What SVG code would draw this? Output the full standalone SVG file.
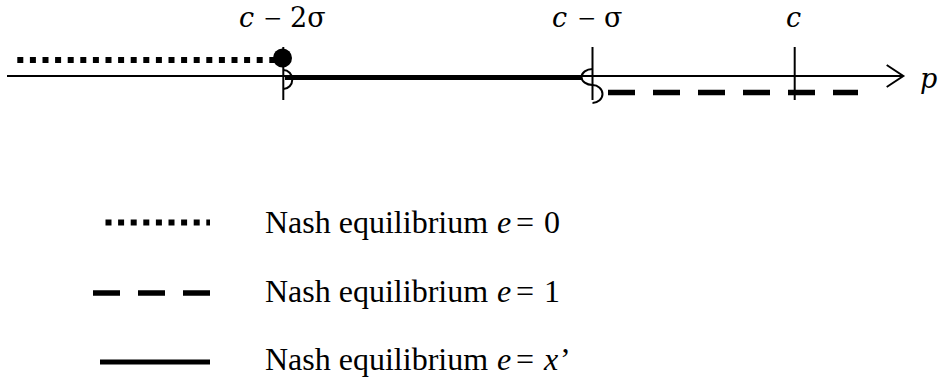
<svg xmlns="http://www.w3.org/2000/svg" width="938" height="387" viewBox="0 0 938 387">
<style>
.thin{stroke:#000;stroke-width:2;fill:none}
.dot{stroke:#000;stroke-width:6;stroke-dasharray:6 6.6;fill:none}
.dash{stroke:#000;stroke-width:5.5;stroke-dasharray:27 18;fill:none}
.solid{stroke:#000;stroke-width:5;fill:none}
.math{font-family:"DejaVu Serif","Liberation Serif",serif;font-size:27px;fill:#000}
.minus{font-family:"Liberation Serif",serif;font-size:31px}
.leg{font-family:"Liberation Serif","Times New Roman",serif;font-size:32px;fill:#000}
.it{font-style:italic}
</style>
<rect width="938" height="387" fill="#fff"/>
<g id="axis">
  <line class="thin" x1="7" y1="76" x2="903" y2="76"/>
  <polyline class="thin" points="886.7,65 903.3,76 886.7,87"/>
  <text class="math it" x="920" y="88">p</text>
</g>
<g id="tick-c2s">
  <line class="thin" x1="283.3" y1="47" x2="283.3" y2="100"/>
  <path class="thin" d="M283.3,70 A9,9.5 0 0 1 283.3,89"/>
  <circle cx="282.5" cy="58" r="9.5" fill="#000"/>
  <text class="math" y="27"><tspan class="it" x="239">c</tspan><tspan class="minus" x="264" y="28.5">−</tspan><tspan x="290" y="27">2σ</tspan></text>
</g>
<g id="tick-cs">
  <line class="thin" x1="592.5" y1="47" x2="592.5" y2="100"/>
  <path class="thin" d="M592.5,69 A11,8 0 0 0 592.5,85"/>
  <path class="thin" d="M592.5,85 A10,9 0 0 1 592.5,103"/>
  <text class="math" y="27"><tspan class="it" x="552">c</tspan><tspan class="minus" x="578" y="28.5">−</tspan><tspan x="604" y="27">σ</tspan></text>
</g>
<g id="tick-c">
  <line class="thin" x1="794.7" y1="47" x2="794.7" y2="100"/>
  <text class="math it" x="786" y="27">c</text>
</g>
<g id="connectors">
  <line class="dot" x1="17.3" y1="60" x2="275" y2="60"/>
  <line class="solid" x1="285" y1="77.5" x2="582" y2="77.5"/>
  <line class="dash" x1="608" y1="92.5" x2="858" y2="92.5"/>
</g>
<g id="legend-e0">
  <line class="dot" x1="105.5" y1="222.5" x2="210" y2="222.5"/>
  <text class="leg" y="233"><tspan x="265">Nash equilibrium</tspan><tspan class="it" x="497">e</tspan><tspan x="516">=</tspan><tspan x="544">0</tspan></text>
</g>
<g id="legend-e1">
  <line class="dash" x1="93" y1="293" x2="210" y2="293"/>
  <text class="leg" y="302"><tspan x="265">Nash equilibrium</tspan><tspan class="it" x="497">e</tspan><tspan x="516">=</tspan><tspan x="544">1</tspan></text>
</g>
<g id="legend-ex">
  <line class="solid" x1="100" y1="362" x2="210" y2="362" stroke-width="6"/>
  <text class="leg" y="370"><tspan x="265">Nash equilibrium</tspan><tspan class="it" x="497">e</tspan><tspan x="516">=</tspan><tspan class="it" x="544">x</tspan><tspan x="560">’</tspan></text>
</g>
</svg>
